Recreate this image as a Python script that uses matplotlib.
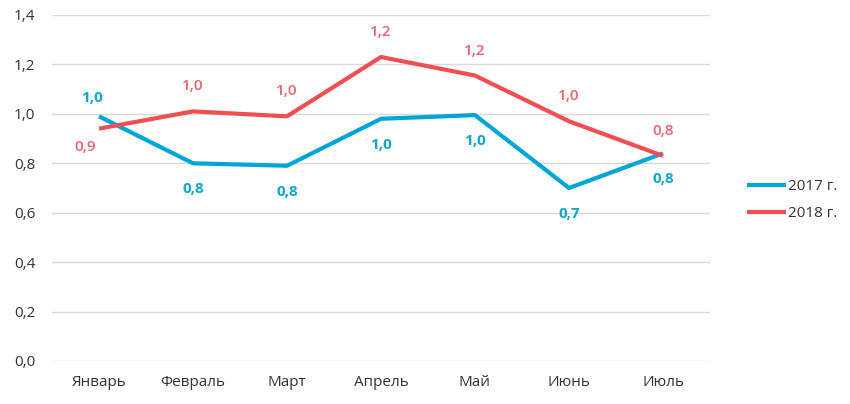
import matplotlib
matplotlib.use("Agg")
import matplotlib.pyplot as plt

months = ["Январь", "Февраль", "Март", "Апрель", "Май", "Июнь", "Июль"]
series_2017 = [0.99, 0.80, 0.79, 0.98, 0.995, 0.70, 0.84]
series_2018 = [0.94, 1.01, 0.99, 1.23, 1.155, 0.97, 0.83]
labels_2017 = ["1,0", "0,8", "0,8", "1,0", "1,0", "0,7", "0,8"]
labels_2018 = ["0,9", "1,0", "1,0", "1,2", "1,2", "1,0", "0,8"]
yticks = [0.0, 0.2, 0.4, 0.6, 0.8, 1.0, 1.2, 1.4]
ytick_labels = ["0,0", "0,2", "0,4", "0,6", "0,8", "1,0", "1,2", "1,4"]
legend_names = ["2017 г.", "2018 г."]

plt.rcParams['font.family'] = ['Open Sans', 'DejaVu Sans']

c17 = "#00a5d8"
c18 = "#f04f52"
c17t = "#10a8c6"
c18t = "#e8646f"

fig = plt.figure(figsize=(8.5, 4.04), dpi=100)
ax = fig.add_axes([52/850, 1-361/404, (710-52)/850, (361-15)/404])

x = list(range(len(months)))
l1, = ax.plot(x, series_2017, color=c17, lw=3.0, solid_capstyle='butt', zorder=3)
l2, = ax.plot(x, series_2018, color=c18, lw=3.0, solid_capstyle='butt', zorder=3)

# label offsets (pixels): positive = above
off17 = [18, -26, -26, -26, -26, -26, -26]
off18 = [-18, 25, 25, 25, 25, 25, 25]
dx18 = [-14, 0, 0, 0, 0, 0, 0]
dx17 = [-7, 0, 0, 0, 0, 0, 0]
for i in x:
    ax.annotate(labels_2017[i], (i, series_2017[i]), xytext=(dx17[i], off17[i]),
                textcoords='offset pixels', ha='center', va='center',
                color=c17t, fontsize=11, fontweight='bold')
    ax.annotate(labels_2018[i], (i, series_2018[i]), xytext=(dx18[i], off18[i]),
                textcoords='offset pixels', ha='center', va='center',
                color=c18t, fontsize=11, fontweight='semibold')

ax.set_xlim(-0.5, len(months) - 0.5)
ax.set_ylim(0, 1.4)
ax.set_yticks(yticks)
ax.set_yticklabels(ytick_labels)
ax.set_xticks(x)
ax.set_xticklabels(months)
ax.tick_params(length=0, labelsize=11, colors="#333333")
ax.tick_params(axis='y', pad=12)
ax.tick_params(axis='x', pad=10)
ax.grid(axis='y', color="#d9d9d9", lw=1)
ax.set_axisbelow(True)
for s in ax.spines.values():
    s.set_visible(False)

fig.legend([l1, l2], legend_names, loc='center left', bbox_to_anchor=(733/850, 1-200/404),
           frameon=False, fontsize=11, handlelength=2.6, handletextpad=0.1,
           labelspacing=0.8, labelcolor="#333333")

fig.savefig("out.png", dpi=100)
